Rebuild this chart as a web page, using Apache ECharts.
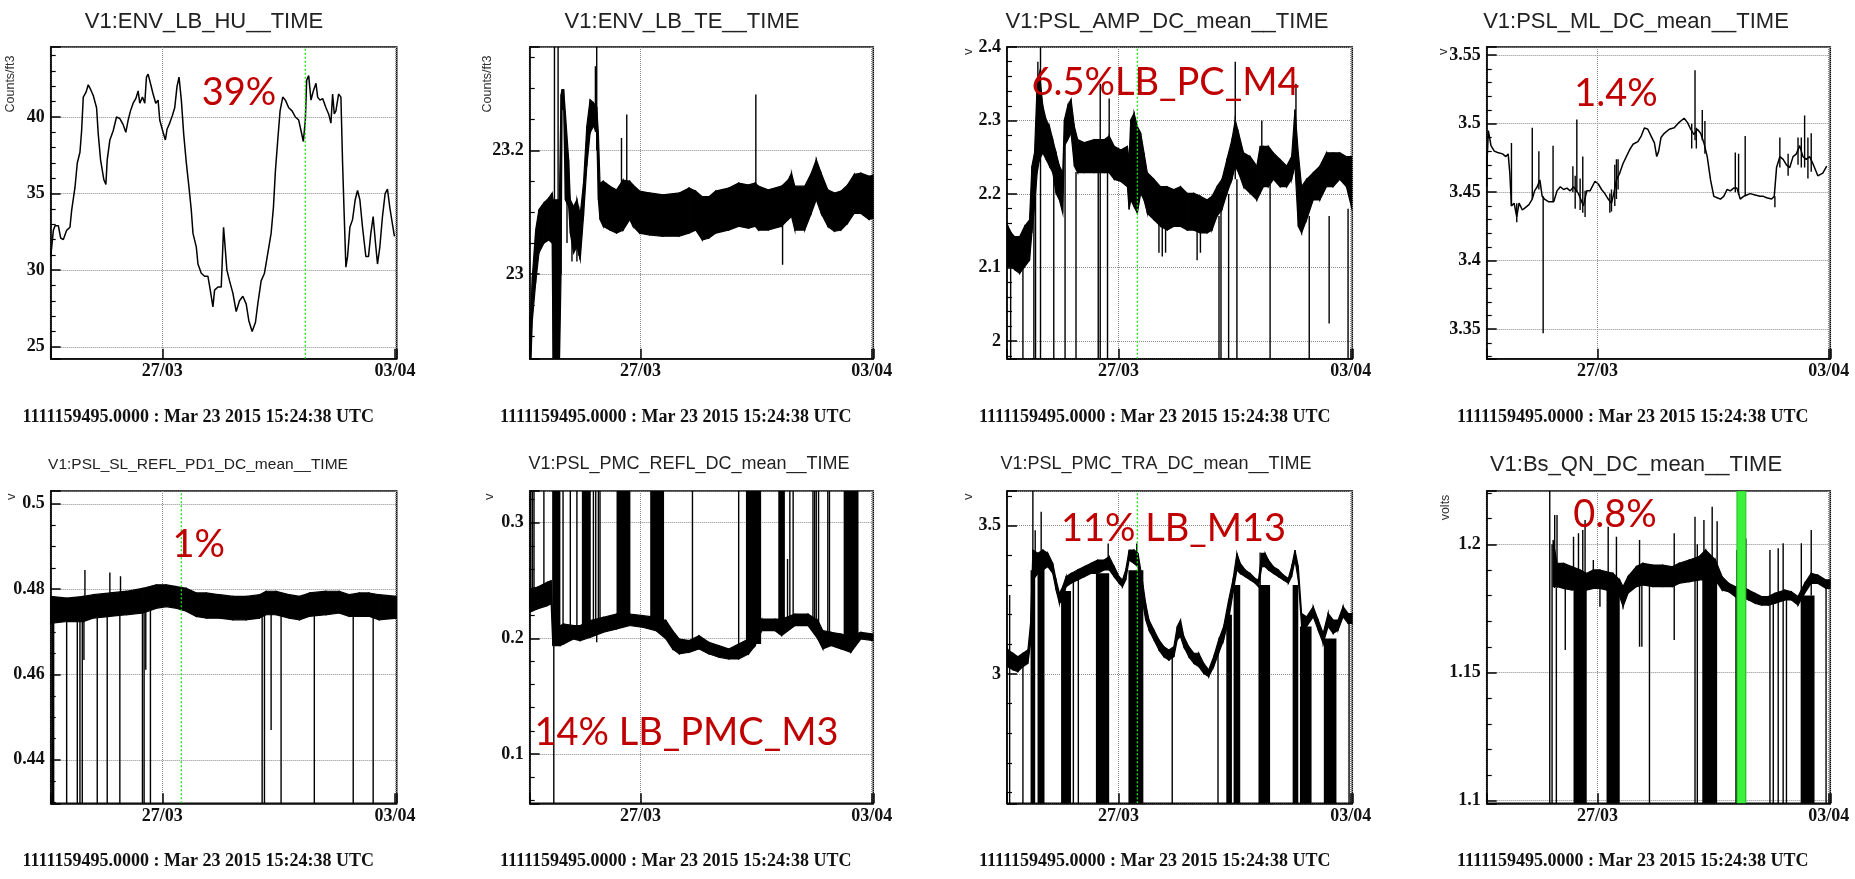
<!DOCTYPE html>
<html><head><meta charset="utf-8">
<script src="https://cdn.jsdelivr.net/npm/echarts@6/dist/echarts.min.js"></script>
<style>html,body{margin:0;padding:0;background:#fff;}#c{width:1855px;height:879px;}</style>
</head><body><div id="c"></div>
<script>
// x: days relative to 27/03/2015 00:00 UTC ; samples stored as elapsed days since start
const START = -3.358;            // 1111159495 = Mar 23 2015 15:24:38 UTC
const SPAN = 10.408;
const X_TICK_LABELS = [[0, '27/03'], [7, '03/04']];
const STAMP = '1111159495.0000 : Mar 23 2015 15:24:38 UTC';

// ---- V1:ENV_LB_HU ----  [t, value]
const HU = [[0.00,30.9],[0.03,31.5],[0.08,32.6],[0.13,32.9],[0.23,32.9],[0.30,32.1],[0.38,32.0],[0.48,32.6],[0.58,32.8],[0.63,33.9],[0.73,35.4],[0.80,37.0],[0.88,37.7],[0.93,39.1],[0.98,41.3],[1.06,41.6],[1.13,42.1],[1.20,41.8],[1.28,41.4],[1.38,40.6],[1.43,38.9],[1.50,37.2],[1.60,35.9],[1.66,35.6],[1.70,37.2],[1.78,38.5],[1.88,39.1],[1.98,40.0],[2.08,39.9],[2.18,39.5],[2.26,39.0],[2.33,39.8],[2.40,40.4],[2.48,40.9],[2.56,41.2],[2.63,41.7],[2.68,40.9],[2.76,41.3],[2.83,40.9],[2.88,42.6],[2.93,42.8],[3.00,42.2],[3.08,41.5],[3.16,40.9],[3.23,41.1],[3.28,39.8],[3.38,39.0],[3.45,38.5],[3.50,39.2],[3.58,39.6],[3.66,40.1],[3.73,40.6],[3.80,42.0],[3.86,42.6],[3.93,41.1],[4.00,38.9],[4.08,37.0],[4.16,35.4],[4.23,33.9],[4.28,32.4],[4.38,31.5],[4.43,30.4],[4.53,29.8],[4.63,29.6],[4.73,29.6],[4.80,28.7],[4.88,27.6],[4.93,28.7],[5.03,28.9],[5.13,28.9],[5.20,32.8],[5.24,31.7],[5.30,30.0],[5.38,29.3],[5.48,28.5],[5.58,27.3],[5.68,28.0],[5.78,28.3],[5.88,27.8],[5.96,26.7],[6.06,26.0],[6.16,26.6],[6.23,27.8],[6.33,29.3],[6.43,29.8],[6.53,31.1],[6.63,32.4],[6.70,34.1],[6.76,36.5],[6.83,38.5],[6.90,40.4],[6.98,41.3],[7.06,41.1],[7.16,40.6],[7.26,40.4],[7.36,40.0],[7.46,39.8],[7.53,39.1],[7.60,38.4],[7.66,39.8],[7.70,42.4],[7.76,42.7],[7.83,41.1],[7.90,41.7],[7.98,42.2],[8.03,41.3],[8.10,41.1],[8.18,41.2],[8.28,40.6],[8.36,40.2],[8.43,39.6],[8.48,41.5],[8.53,40.2],[8.58,40.4],[8.66,41.5],[8.73,41.3],[8.78,37.0],[8.83,33.5],[8.88,30.2],[8.93,30.9],[9.00,32.8],[9.08,33.3],[9.16,34.6],[9.23,35.2],[9.30,34.6],[9.38,32.8],[9.48,30.9],[9.56,30.9],[9.63,32.4],[9.70,33.5],[9.76,32.0],[9.83,30.4],[9.90,31.5],[9.98,33.5],[10.06,35.0],[10.13,35.3],[10.20,34.1],[10.28,33.0],[10.34,32.2]];

// ---- V1:ENV_LB_TE ----  band [t, low, high], spikes [t, from, to]
const TE_BAND = [[0.00,22.85,22.93],[0.03,22.85,22.935],[0.08,22.925,22.996],[0.18,22.985,23.071],[0.28,23.034,23.104],[0.43,23.05,23.115],[0.58,23.055,23.123],[0.68,23.05,23.131],[0.71,22.85,23.12],[0.90,22.85,23.12],[0.95,23.0,23.29],[0.98,23.266,23.298],[1.03,23.266,23.298],[1.08,23.12,23.261],[1.18,23.109,23.185],[1.23,23.066,23.12],[1.33,23.034,23.109],[1.43,23.044,23.12],[1.53,23.023,23.096],[1.63,23.093,23.147],[1.73,23.174,23.239],[1.83,23.228,23.282],[1.93,23.239,23.277],[2.03,23.228,23.27],[2.08,23.12,23.228],[2.13,23.088,23.147],[2.23,23.077,23.15],[2.43,23.071,23.142],[2.63,23.066,23.136],[2.83,23.071,23.152],[3.03,23.088,23.15],[3.13,23.077,23.144],[3.33,23.066,23.134],[3.63,23.063,23.131],[4.03,23.061,23.128],[4.53,23.061,23.131],[4.83,23.066,23.139],[5.03,23.071,23.134],[5.23,23.055,23.125],[5.43,23.058,23.125],[5.63,23.066,23.134],[6.03,23.071,23.139],[6.33,23.077,23.147],[6.63,23.074,23.144],[6.83,23.077,23.147],[6.93,23.071,23.142],[7.23,23.071,23.136],[7.63,23.077,23.142],[7.83,23.088,23.152],[7.93,23.093,23.163],[8.03,23.071,23.142],[8.33,23.071,23.142],[8.53,23.098,23.163],[8.68,23.12,23.185],[8.83,23.098,23.163],[9.03,23.077,23.136],[9.23,23.069,23.131],[9.43,23.071,23.134],[9.63,23.082,23.144],[9.83,23.098,23.161],[10.03,23.098,23.163],[10.28,23.088,23.158],[10.40,23.09,23.16]];
const TE_SPIKES = [[0.75,22.85,23.38],[0.86,22.85,23.38],[1.13,23.05,23.17],[1.28,23.02,23.11],[1.43,23.02,23.10],[1.48,23.03,23.11],[1.99,23.23,23.336],[2.03,23.20,23.38],[2.78,23.12,23.22],[2.94,23.12,23.258],[6.85,23.12,23.29],[7.66,23.015,23.08]];

// ---- V1:PSL_AMP_DC_mean ----
const AMP_BAND = [[0.00,2.10,2.16],[0.03,2.101,2.156],[0.13,2.101,2.147],[0.23,2.097,2.142],[0.38,2.092,2.142],[0.53,2.101,2.156],[0.68,2.110,2.165],[0.75,2.147,2.238],[0.83,2.183,2.256],[0.91,2.229,2.351],[0.98,2.247,2.365],[1.08,2.256,2.320],[1.18,2.247,2.301],[1.28,2.238,2.292],[1.38,2.229,2.274],[1.48,2.201,2.256],[1.58,2.192,2.238],[1.68,2.174,2.229],[1.73,2.265,2.301],[1.83,2.274,2.320],[1.93,2.283,2.329],[2.03,2.238,2.292],[2.13,2.229,2.274],[2.33,2.229,2.270],[2.63,2.229,2.274],[2.93,2.229,2.274],[3.08,2.229,2.279],[3.23,2.220,2.265],[3.43,2.217,2.260],[3.63,2.210,2.265],[3.68,2.179,2.247],[3.73,2.192,2.301],[3.83,2.183,2.310],[3.93,2.174,2.292],[4.03,2.201,2.283],[4.13,2.192,2.256],[4.23,2.174,2.229],[4.43,2.165,2.220],[4.63,2.156,2.210],[4.83,2.151,2.210],[5.03,2.156,2.206],[5.23,2.156,2.210],[5.43,2.151,2.201],[5.63,2.151,2.201],[5.83,2.147,2.197],[6.03,2.147,2.192],[6.18,2.151,2.197],[6.33,2.170,2.210],[6.48,2.179,2.220],[6.63,2.201,2.247],[6.78,2.220,2.274],[6.88,2.238,2.301],[6.98,2.229,2.283],[7.13,2.210,2.256],[7.33,2.201,2.251],[7.53,2.192,2.238],[7.63,2.201,2.265],[7.73,2.210,2.265],[7.88,2.210,2.265],[8.03,2.220,2.256],[8.23,2.210,2.247],[8.43,2.210,2.238],[8.58,2.220,2.251],[8.68,2.238,2.315],[8.78,2.156,2.256],[8.88,2.147,2.210],[9.03,2.165,2.220],[9.23,2.192,2.229],[9.43,2.192,2.238],[9.63,2.210,2.256],[9.83,2.210,2.256],[10.03,2.220,2.256],[10.23,2.210,2.251],[10.38,2.183,2.251]];
const AMP_SPIKES = [[0.11,1.97,2.10],[0.48,1.97,2.10],[0.81,1.97,2.20],[0.86,1.97,2.23],[0.93,2.25,2.38],[1.01,1.97,2.41],[1.41,1.97,2.23],[1.75,1.97,2.27],[2.08,1.97,2.23],[2.75,1.97,2.23],[2.81,1.97,2.35],[3.03,1.97,2.23],[3.08,2.23,2.33],[4.58,2.12,2.16],[4.68,2.115,2.16],[4.78,2.12,2.16],[5.73,2.11,2.15],[5.83,2.12,2.15],[6.39,1.97,2.17],[6.45,1.97,2.18],[6.68,1.97,2.20],[6.88,2.22,2.38],[6.93,1.97,2.22],[7.68,2.22,2.30],[7.93,1.97,2.22],[8.71,2.24,2.35],[9.11,1.97,2.17],[9.71,2.024,2.17],[10.28,1.97,2.18]];

// ---- V1:PSL_ML_DC_mean ----
const ML = [[0.00,3.466],[0.05,3.495],[0.13,3.484],[0.23,3.480],[0.33,3.479],[0.48,3.478],[0.58,3.476],[0.65,3.478],[0.70,3.464],[0.75,3.440],[0.83,3.442],[0.91,3.432],[0.98,3.442],[1.08,3.437],[1.18,3.439],[1.28,3.441],[1.38,3.445],[1.45,3.451],[1.53,3.454],[1.61,3.459],[1.68,3.447],[1.75,3.445],[1.88,3.443],[2.03,3.443],[2.13,3.451],[2.23,3.454],[2.33,3.452],[2.43,3.453],[2.53,3.451],[2.63,3.454],[2.78,3.449],[2.93,3.440],[3.03,3.451],[3.13,3.451],[3.28,3.458],[3.38,3.456],[3.48,3.452],[3.58,3.449],[3.68,3.445],[3.78,3.442],[3.85,3.449],[3.93,3.459],[4.03,3.464],[4.13,3.471],[4.23,3.476],[4.33,3.481],[4.43,3.485],[4.58,3.487],[4.68,3.491],[4.78,3.497],[4.88,3.496],[4.98,3.491],[5.08,3.486],[5.15,3.476],[5.21,3.480],[5.28,3.490],[5.38,3.493],[5.53,3.496],[5.68,3.497],[5.83,3.501],[5.98,3.504],[6.08,3.501],[6.18,3.496],[6.28,3.492],[6.38,3.496],[6.48,3.493],[6.58,3.486],[6.68,3.476],[6.78,3.459],[6.88,3.447],[6.98,3.446],[7.08,3.445],[7.18,3.447],[7.28,3.452],[7.38,3.451],[7.48,3.453],[7.58,3.453],[7.68,3.445],[7.78,3.447],[7.88,3.448],[7.98,3.449],[8.13,3.448],[8.28,3.447],[8.38,3.447],[8.48,3.446],[8.63,3.445],[8.71,3.447],[8.78,3.468],[8.88,3.476],[8.98,3.474],[9.08,3.470],[9.18,3.468],[9.28,3.476],[9.38,3.478],[9.48,3.484],[9.58,3.476],[9.68,3.474],[9.78,3.476],[9.88,3.471],[10.03,3.462],[10.18,3.464],[10.30,3.469]];
const ML_SPIKES = [[0.00,3.454,3.476],[0.75,3.440,3.486],[0.91,3.428,3.442],[1.38,3.445,3.497],[1.58,3.452,3.480],[1.71,3.347,3.447],[2.01,3.443,3.484],[2.61,3.450,3.469],[2.68,3.438,3.462],[2.73,3.450,3.503],[2.83,3.437,3.460],[2.91,3.435,3.476],[2.98,3.432,3.451],[3.73,3.435,3.449],[3.78,3.436,3.452],[3.88,3.440,3.470],[3.93,3.445,3.474],[3.98,3.452,3.474],[6.21,3.482,3.500],[6.31,3.488,3.539],[6.35,3.482,3.497],[6.53,3.488,3.510],[6.61,3.478,3.502],[7.53,3.450,3.479],[7.63,3.448,3.478],[7.83,3.447,3.491],[8.73,3.439,3.447],[8.88,3.468,3.490],[9.13,3.462,3.478],[9.43,3.470,3.490],[9.53,3.468,3.490],[9.63,3.468,3.506],[9.73,3.460,3.490],[9.83,3.465,3.493]];

// ---- V1:PSL_SL_REFL_PD1_DC_mean ----
const PD1_BAND = [[0.00,0.4720,0.4783],[0.48,0.4724,0.4779],[0.98,0.4724,0.4783],[1.28,0.4732,0.4787],[1.78,0.4736,0.4791],[2.28,0.4740,0.4795],[2.78,0.4744,0.4802],[3.18,0.4755,0.4810],[3.48,0.4759,0.4810],[3.78,0.4755,0.4806],[4.08,0.4748,0.4802],[4.38,0.4736,0.4791],[4.68,0.4732,0.4791],[5.08,0.4732,0.4787],[5.48,0.4728,0.4783],[5.88,0.4728,0.4783],[6.28,0.4732,0.4787],[6.48,0.4740,0.4795],[6.78,0.4740,0.4795],[7.18,0.4732,0.4787],[7.48,0.4728,0.4783],[7.78,0.4736,0.4791],[8.28,0.4740,0.4795],[8.68,0.4744,0.4795],[8.98,0.4736,0.4787],[9.28,0.4736,0.4791],[9.58,0.4736,0.4791],[9.88,0.4728,0.4787],[10.40,0.4732,0.4783]];
const PD1_BLOCKS = [[0.03,0.11,0.4290,0.4740]];
const PD1_SPIKES = [[0.48,0.429,0.474],[0.80,0.429,0.474],[0.88,0.429,0.474],[0.95,0.429,0.474],[1.00,0.4634,0.476],[1.03,0.476,0.4845],[1.40,0.429,0.475],[1.70,0.429,0.475],[1.78,0.477,0.4839],[2.08,0.429,0.475],[2.10,0.477,0.4830],[2.76,0.429,0.476],[2.81,0.429,0.476],[2.86,0.4611,0.476],[3.00,0.429,0.476],[6.36,0.429,0.475],[6.43,0.429,0.475],[6.63,0.4470,0.476],[6.93,0.429,0.475],[7.93,0.429,0.475],[9.10,0.429,0.475],[9.70,0.429,0.475]];

// ---- V1:PSL_PMC_REFL_DC_mean ----
const REFL_BAND = [[0.00,0.2225,0.2427],[0.23,0.2254,0.2441],[0.53,0.2282,0.2484],[0.65,0.2297,0.2499],[0.70,0.1937,0.2110],[0.93,0.1937,0.2110],[1.03,0.1951,0.2124],[1.33,0.1994,0.2110],[1.53,0.1980,0.2110],[1.83,0.2009,0.2153],[2.23,0.2052,0.2182],[2.63,0.2081,0.2210],[3.03,0.2110,0.2210],[3.43,0.2095,0.2196],[3.83,0.2066,0.2182],[4.13,0.1994,0.2153],[4.33,0.1908,0.2066],[4.53,0.1865,0.1994],[4.83,0.1879,0.1980],[5.13,0.1908,0.2023],[5.43,0.1865,0.1965],[5.73,0.1836,0.1937],[6.03,0.1821,0.1908],[6.33,0.1821,0.1951],[6.63,0.1865,0.1994],[6.83,0.1937,0.2081],[7.03,0.2066,0.2167],[7.43,0.2066,0.2167],[7.63,0.2023,0.2167],[8.03,0.2110,0.2210],[8.43,0.2110,0.2210],[8.73,0.1994,0.2153],[8.88,0.1908,0.2066],[9.13,0.1937,0.2052],[9.43,0.1908,0.2037],[9.73,0.1879,0.2023],[10.03,0.1994,0.2052],[10.40,0.1980,0.2037]];
const REFL_BLOCKS = [[0.68,0.93,0.205,0.33],[1.58,1.85,0.205,0.33],[2.63,3.05,0.215,0.33],[3.65,4.07,0.212,0.33],[6.55,7.01,0.195,0.33],[7.53,7.73,0.210,0.33],[9.51,9.96,0.197,0.33]];
const REFL_SPIKES = [[0.03,0.235,0.33],[0.08,0.235,0.33],[0.13,0.235,0.33],[0.43,0.240,0.33],[0.73,0.05,0.21],[1.01,0.205,0.33],[1.23,0.205,0.33],[1.43,0.205,0.33],[1.93,0.21,0.33],[2.00,0.21,0.33],[2.03,0.1965,0.21],[2.08,0.21,0.33],[2.13,0.21,0.33],[4.93,0.19,0.33],[6.33,0.185,0.33],[7.81,0.21,0.2686],[7.88,0.21,0.33],[7.98,0.21,0.33],[8.58,0.21,0.33],[8.63,0.21,0.33],[8.68,0.21,0.33],[8.75,0.20,0.33],[9.03,0.195,0.33],[9.08,0.195,0.33]];

// ---- V1:PSL_PMC_TRA_DC_mean ----
const TRA_BAND = [[0.00,3.03,3.09],[0.03,3.025,3.081],[0.18,3.014,3.070],[0.33,3.008,3.058],[0.48,3.025,3.070],[0.63,3.036,3.081],[0.71,3.103,3.171],[0.78,3.317,3.418],[0.93,3.339,3.407],[1.08,3.351,3.418],[1.23,3.362,3.407],[1.38,3.339,3.373],[1.48,3.283,3.317],[1.58,3.238,3.272],[1.68,3.249,3.294],[1.78,3.294,3.328],[1.93,3.306,3.339],[2.13,3.317,3.351],[2.33,3.328,3.362],[2.53,3.339,3.373],[2.73,3.339,3.384],[2.93,3.351,3.384],[3.08,3.351,3.396],[3.23,3.328,3.362],[3.38,3.306,3.328],[3.48,3.294,3.317],[3.58,3.317,3.351],[3.68,3.384,3.418],[3.83,3.373,3.418],[3.95,3.362,3.407],[4.08,3.249,3.317],[4.18,3.182,3.238],[4.28,3.148,3.182],[4.43,3.115,3.148],[4.58,3.081,3.115],[4.73,3.058,3.092],[4.88,3.047,3.081],[5.03,3.058,3.092],[5.13,3.115,3.160],[5.23,3.126,3.182],[5.33,3.092,3.126],[5.48,3.058,3.092],[5.63,3.036,3.070],[5.78,3.025,3.070],[5.93,3.002,3.036],[6.08,2.991,3.014],[6.23,3.025,3.058],[6.38,3.070,3.115],[6.53,3.115,3.160],[6.68,3.182,3.249],[6.81,3.272,3.317],[6.93,3.351,3.407],[7.03,3.339,3.373],[7.18,3.328,3.351],[7.33,3.317,3.339],[7.48,3.306,3.322],[7.58,3.294,3.317],[7.68,3.362,3.407],[7.78,3.362,3.407],[7.88,3.351,3.384],[8.03,3.339,3.362],[8.18,3.328,3.351],[8.33,3.317,3.334],[8.48,3.306,3.322],[8.58,3.328,3.362],[8.68,3.384,3.418],[8.78,3.317,3.362],[8.88,3.160,3.204],[9.03,3.160,3.193],[9.23,3.193,3.227],[9.38,3.148,3.182],[9.53,3.103,3.137],[9.68,3.160,3.204],[9.83,3.137,3.182],[9.98,3.148,3.182],[10.13,3.193,3.227],[10.28,3.171,3.204],[10.40,3.171,3.204]];
const TRA_BLOCKS = [[0.71,0.85,2.55,3.35],[0.92,1.13,2.55,3.36],[1.63,1.93,2.55,3.28],[2.68,3.08,2.55,3.34],[3.66,4.11,2.55,3.35],[6.61,6.78,2.55,3.20],[6.83,7.03,2.55,3.30],[7.58,7.93,2.55,3.30],[8.61,8.78,2.55,3.30],[8.83,9.18,2.55,3.16],[9.55,9.93,2.55,3.12]];
const TRA_SPIKES = [[0.08,2.55,3.266],[0.48,2.55,3.03],[0.78,3.40,3.63],[0.85,3.40,3.485],[1.03,3.40,3.547],[2.00,2.55,3.31],[2.15,2.55,3.32],[3.05,3.38,3.44],[3.91,3.40,3.44],[4.98,2.55,3.06],[6.36,2.55,3.09],[7.63,3.30,3.41],[10.31,2.55,3.17]];

// ---- V1:Bs_QN_DC_mean ----
const QN_BAND = [[2.01,1.1835,1.2017],[2.13,1.1835,1.1926],[2.33,1.1828,1.1926],[2.58,1.1822,1.1913],[2.83,1.1822,1.1900],[3.03,1.1822,1.1887],[3.23,1.1828,1.1900],[3.43,1.1828,1.1900],[3.63,1.1822,1.1893],[3.83,1.1815,1.1887],[4.03,1.1796,1.1861],[4.13,1.1757,1.1835],[4.28,1.1809,1.1874],[4.53,1.1835,1.1913],[4.73,1.1841,1.1926],[5.03,1.1835,1.1919],[5.33,1.1835,1.1919],[5.63,1.1835,1.1913],[5.83,1.1848,1.1926],[6.13,1.1854,1.1939],[6.43,1.1861,1.1952],[6.63,1.1861,1.1978],[6.93,1.1861,1.1939],[7.13,1.1822,1.1874],[7.33,1.1815,1.1848],[7.53,1.1796,1.1835],[7.73,1.1796,1.1835],[7.93,1.1783,1.1822],[8.13,1.1770,1.1809],[8.33,1.1763,1.1796],[8.53,1.1763,1.1796],[8.73,1.1770,1.1809],[9.03,1.1783,1.1822],[9.23,1.1783,1.1815],[9.43,1.1763,1.1796],[9.63,1.1809,1.1848],[9.83,1.1848,1.1887],[10.03,1.1848,1.1880],[10.28,1.1828,1.1861],[10.40,1.1828,1.1861]];
const QN_BLOCKS = [[2.63,3.03,1.095,1.183],[3.63,4.03,1.095,1.182],[6.53,6.98,1.095,1.187],[7.53,7.85,1.095,1.180],[9.51,9.93,1.095,1.180]];
const QN_SPIKES = [[1.91,1.095,1.225],[1.98,1.095,1.200],[2.06,1.183,1.2114],[2.11,1.095,1.183],[2.13,1.183,1.2114],[2.38,1.1588,1.183],[2.63,1.183,1.203],[2.78,1.183,1.2043],[2.91,1.183,1.2056],[2.98,1.183,1.2095],[3.23,1.183,1.1939],[3.43,1.1757,1.183],[3.68,1.183,1.2069],[3.93,1.183,1.203],[4.63,1.1601,1.2017],[4.70,1.1601,1.186],[4.93,1.095,1.184],[5.68,1.1627,1.2043],[6.31,1.095,1.2108],[6.38,1.095,1.200],[6.58,1.187,1.2095],[6.83,1.187,1.2147],[6.98,1.187,1.209],[7.58,1.180,1.1978],[7.85,1.180,1.2023],[8.58,1.095,1.1978],[8.68,1.095,1.180],[8.83,1.095,1.1985],[8.98,1.095,1.2004],[9.08,1.095,1.180],[9.53,1.180,1.2004],[9.83,1.180,1.2056],[10.28,1.095,1.183]];

// marker times (elapsed days)
const GREEN_HU = [7.66];
const GREEN_AMP = [3.93];
const GREEN_PD1 = [3.93];
const GREEN_TRA = [3.93];
const GREEN_QN_BAND = [[7.58, 7.85]];

const PANELS = [
  {ymin:24.22, ymax:44.57, iv:5, minor:5, line:HU, green:GREEN_HU},
  {ymin:22.863, ymax:23.367, iv:0.2, minor:4, band:TE_BAND, spikes:TE_SPIKES},
  {ymin:1.976, ymax:2.4, iv:0.1, minor:5, band:AMP_BAND, spikes:AMP_SPIKES, green:GREEN_AMP},
  {ymin:3.3285, ymax:3.556, iv:0.05, minor:5, line:ML, spikes:ML_SPIKES},
  {ymin:0.4298, ymax:0.503, iv:0.02, minor:4, band:PD1_BAND, blocks:PD1_BLOCKS, spikes:PD1_SPIKES, green:GREEN_PD1},
  {ymin:0.0573, ymax:0.3274, iv:0.1, minor:5, band:REFL_BAND, blocks:REFL_BLOCKS, spikes:REFL_SPIKES},
  {ymin:2.564, ymax:3.617, iv:0.5, minor:5, band:TRA_BAND, blocks:TRA_BLOCKS, spikes:TRA_SPIKES, green:GREEN_TRA},
  {ymin:1.099, ymax:1.2208, iv:0.05, minor:5, band:QN_BAND, blocks:QN_BLOCKS, spikes:QN_SPIKES, greenBand:GREEN_QN_BAND}
];

const LAYOUT = [
  {left:50.7, top:47, width:346, height:311.7},
  {left:529.7, top:47, width:343.6, height:311.7},
  {left:1007, top:47, width:345.3, height:311.7},
  {left:1486.7, top:47, width:343.6, height:311.7},
  {left:50.7, top:491, width:346, height:312.3},
  {left:529.7, top:491, width:343.6, height:312.3},
  {left:1007, top:491, width:345.3, height:312.3},
  {left:1486.7, top:491, width:343.6, height:312.3}
];

const TITLES = [
  ['V1:ENV_LB_HU__TIME', 204, 21.5, 22],
  ['V1:ENV_LB_TE__TIME', 682, 21.5, 22],
  ['V1:PSL_AMP_DC_mean__TIME', 1167, 21.5, 22],
  ['V1:PSL_ML_DC_mean__TIME', 1636, 21.5, 22],
  ['V1:PSL_SL_REFL_PD1_DC_mean__TIME', 198, 464.5, 15.5],
  ['V1:PSL_PMC_REFL_DC_mean__TIME', 689, 464, 18],
  ['V1:PSL_PMC_TRA_DC_mean__TIME', 1156, 464, 18],
  ['V1:Bs_QN_DC_mean__TIME', 1636, 465, 22]
];
const STAMP_POS = [[198.3,417.3],[675.7,417.3],[1154.7,417.3],[1632.7,417.3],[198.3,861.7],[675.7,861.7],[1154.7,861.7],[1632.7,861.7]];
const UNITS = [['Counts/ft3',10.7,84,12.5],['Counts/ft3',487.3,84,12.5],['v',968,51.7,13],['v',1443,51.7,13],['v',11.2,496.7,13],['v',489.8,496.7,13],['v',968,496.7,13],['volts',1445.3,507.5,12.5]];
const NOTES = [['39%',239,92.5],['6.5%LB_PC_M4',1165.5,82.5],['1.4%',1616,93.3],['1%',198.8,545],['14% LB_PMC_M3',686.5,732.5],['11% LB_M13',1173.5,529],['0.8%',1615,514.5]];

function xFmt(v){
  const f = X_TICK_LABELS.find(d => Math.abs(d[0]-v) < 1e-6);
  return f ? f[1] : '';
}
function yFmt(iv){
  return function(v){
    const k = v/iv;
    return Math.abs(k-Math.round(k)) < 1e-6 ? String(+v.toFixed(4)) : '';
  };
}
function bandItem(params, api){
  const a = api.coord([api.value(0), api.value(2)]);
  const b = api.coord([api.value(3), api.value(5)]);
  const c = api.coord([api.value(3), api.value(4)]);
  const d = api.coord([api.value(0), api.value(1)]);
  return {type:'polygon', shape:{points:[a,b,c,d]}, style:{fill:'#000', stroke:'#000', lineWidth:1.2}};
}
function spikeItem(params, api){
  const p = api.coord([api.value(0), api.value(1)]);
  const q = api.coord([api.value(0), api.value(2)]);
  return {type:'line', shape:{x1:p[0], y1:p[1], x2:q[0], y2:q[1]}, style:{stroke:'#000', lineWidth:1.4}};
}
function greenItem(params, api){
  const p = api.coord([api.value(0), api.value(1)]);
  const q = api.coord([api.value(0), api.value(2)]);
  return {type:'line', shape:{x1:p[0], y1:p[1], x2:q[0], y2:q[1]}, style:{stroke:'#1fe01f', lineWidth:1.4, lineDash:[2,2]}};
}
function blockItem(params, api){
  const p = api.coord([api.value(0), api.value(3)]);
  const q = api.coord([api.value(1), api.value(2)]);
  return {type:'rect', shape:{x:p[0], y:p[1], width:q[0]-p[0], height:q[1]-p[1]}, style:{fill:'#000'}};
}
function greenBandItem(params, api){
  const p = api.coord([api.value(0), api.value(3)]);
  const q = api.coord([api.value(1), api.value(2)]);
  return {type:'rect', shape:{x:p[0], y:p[1], width:q[0]-p[0], height:q[1]-p[1]}, style:{fill:'#3cf03c', stroke:'#22c022', lineWidth:1}};
}

const grids=[], xAxes=[], yAxes=[], series=[];
const LAB = {color:'#111', fontFamily:'Liberation Serif', fontWeight:'bold', fontSize:18};
PANELS.forEach((p,i)=>{
  const L = LAYOUT[i];
  grids.push({left:L.left, top:L.top, width:L.width, height:L.height, show:true, borderColor:'#000', borderWidth:1.5, outerBoundsMode:'none', containLabel:false});
  xAxes.push({type:'value', gridIndex:i, min:START, max:START+SPAN, minInterval:7, maxInterval:7,
    axisLine:{onZero:false, lineStyle:{color:'#000', width:1.5}},
    axisTick:{inside:true, length:10, lineStyle:{color:'#000', width:1.5}},
    axisLabel:Object.assign({margin:4, formatter:xFmt}, LAB),
    splitLine:{show:true, lineStyle:{color:'#8a8a8a', type:'dotted', width:1}}});
  yAxes.push({type:'value', gridIndex:i, min:p.ymin, max:p.ymax, minInterval:p.iv, maxInterval:p.iv,
    axisLine:{onZero:false, lineStyle:{color:'#000', width:1.5}},
    axisTick:{inside:true, length:10, lineStyle:{color:'#000', width:1.5}},
    minorTick:{show:true, splitNumber:p.minor, length:5, lineStyle:{color:'#000', width:1.2}},
    minorSplitLine:{show:false},
    axisLabel:Object.assign({margin:6, formatter:yFmt(p.iv)}, LAB),
    splitLine:{show:true, lineStyle:{color:'#8a8a8a', type:'dotted', width:1}}});
  const ax = {xAxisIndex:i, yAxisIndex:i};
  if (p.band){
    const seg = [];
    for (let k=0; k<p.band.length-1; k++){
      const a=p.band[k], b=p.band[k+1];
      seg.push([a[0]+START, a[1], a[2], b[0]+START, b[1], b[2]]);
    }
    series.push(Object.assign({type:'custom', renderItem:bandItem, data:seg, clip:true, encode:{x:[0,3], y:[1,2,4,5]}, z:2, silent:true}, ax));
  }
  if (p.blocks){
    series.push(Object.assign({type:'custom', renderItem:blockItem, clip:true, z:3, silent:true,
      data:p.blocks.map(b=>[b[0]+START, b[1]+START, b[2], b[3]]), encode:{x:[0,1], y:[2,3]}}, ax));
  }
  if (p.line){
    series.push(Object.assign({type:'line', data:p.line.map(d=>[d[0]+START, d[1]]), symbol:'none', showSymbol:false,
      lineStyle:{color:'#000', width:1.5}, z:3, silent:true, clip:true}, ax));
  }
  if (p.spikes){
    series.push(Object.assign({type:'custom', renderItem:spikeItem, clip:true, z:3, silent:true,
      data:p.spikes.map(s=>[s[0]+START, s[1], s[2]]), encode:{x:0, y:[1,2]}}, ax));
  }
  if (p.green){
    series.push(Object.assign({type:'custom', renderItem:greenItem, clip:true, z:6, silent:true,
      data:p.green.map(t=>[t+START, p.ymin, p.ymax]), encode:{x:0, y:[1,2]}}, ax));
  }
  if (p.greenBand){
    series.push(Object.assign({type:'custom', renderItem:greenBandItem, clip:true, z:6, silent:true,
      data:p.greenBand.map(b=>[b[0]+START, b[1]+START, p.ymin, p.ymax]), encode:{x:[0,1], y:[2,3]}}, ax));
  }
});

function txt(text, x, y, font, fill, rot){
  return {type:'text', x:x, y:y, rotation:rot||0, z:100, silent:true,
    style:{text:text, font:font, fill:fill, textAlign:'center', textVerticalAlign:'middle'}};
}
const graphics = [];
TITLES.forEach(t=>graphics.push(txt(t[0], t[1], t[2], t[3]+'px "Liberation Sans"', '#222')));
STAMP_POS.forEach(s=>graphics.push(txt(STAMP, s[0], s[1], 'bold 18px "Liberation Serif"', '#111')));
UNITS.forEach(u=>graphics.push(txt(u[0], u[1], u[2], u[3]+'px "Liberation Sans"', '#333', Math.PI/2)));
NOTES.forEach(n=>graphics.push(txt(n[0], n[1], n[2], '38px "Lato"', '#c00000')));

const chart = echarts.init(document.getElementById('c'), null, {renderer:'canvas'});
chart.setOption({
  animation:false,
  backgroundColor:'#fff',
  grid:grids, xAxis:xAxes, yAxis:yAxes, series:series,
  graphic:{elements:graphics}
});
</script></body></html>
